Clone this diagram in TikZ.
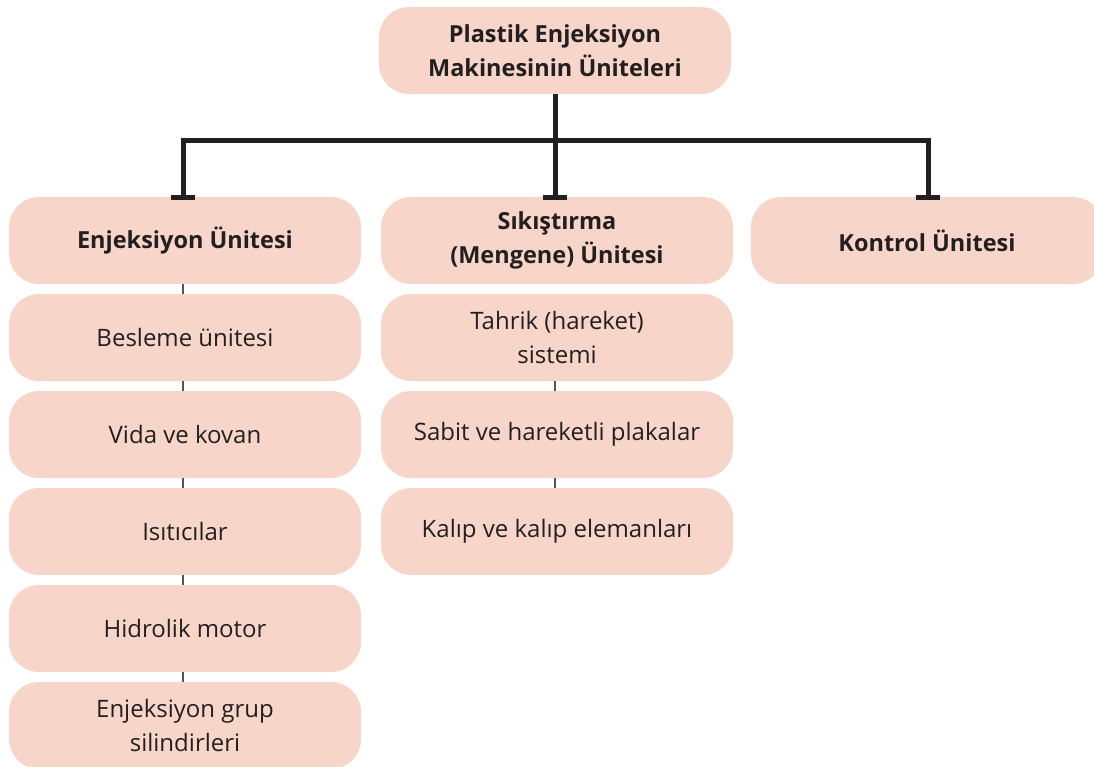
\documentclass[tikz,border=0pt]{standalone}
\usepackage{fontspec}
\setmainfont{Open Sans}
\usetikzlibrary{arrows.meta}
\definecolor{boxfill}{HTML}{F7D6C9}
\definecolor{ink}{HTML}{231F20}
\definecolor{thinline}{HTML}{555555}
\begin{document}
\begin{tikzpicture}[x=1pt,y=-1pt,
  unit/.style={fill=boxfill,rounded corners=30pt,minimum width=352pt,minimum height=87pt,
    inner sep=0pt,align=center,text=ink,font=\fontsize{24}{34}\selectfont},
  head/.style={unit,font=\fontsize{23.5}{34}\selectfont\bfseries},
  main/.style={draw=ink,line width=5pt,-{Bar[width=24pt,line width=5pt]}},
  sub/.style={draw=thinline,line width=1.6pt}]
\useasboundingbox (0,0) rectangle (1094,767);
\node[head] (top) at (555,50.5) {Plastik Enjeksiyon\\Makinesinin Üniteleri};
\node[head] (inj) at (185,240.5) {Enjeksiyon Ünitesi};
\node[head] (clamp) at (557,240.5) {Sıkıştırma\\(Mengene) Ünitesi};
\node[head] (ctrl) at (927,240.5) {Kontrol Ünitesi};
\coordinate (hub) at (555,141);
\node[unit] (l1) at (185,337.5) {Besleme ünitesi};
\node[unit] (l2) at (185,434.5) {Vida ve kovan};
\node[unit] (l3) at (185,531.5) {Isıtıcılar};
\node[unit] (l4) at (185,628.5) {Hidrolik motor};
\node[unit] (l5) at (185,725.5) {Enjeksiyon grup\\silindirleri};
\node[unit] (m1) at (557,337.5) {Tahrik (hareket)\\sistemi};
\node[unit] (m2) at (557,434.5) {Sabit ve hareketli plakalar};
\node[unit] (m3) at (557,531.5) {Kalıp ve kalıp elemanları};
\draw[draw=ink,line width=5pt] (top.south) -- (hub);
\draw[main] (hub) -| ([xshift=-2pt,yshift=-3pt]inj.north);
\draw[main] (hub) -- ([xshift=-2pt,yshift=-3pt]clamp.north);
\draw[main] (hub) -| ([xshift=1pt,yshift=-3pt]ctrl.north);
\draw[sub] ([xshift=-2pt]inj.south) -- ([xshift=-2pt]l1.north);
\draw[sub] ([xshift=-2pt]l1.south) -- ([xshift=-2pt]l2.north);
\draw[sub] ([xshift=-2pt]l2.south) -- ([xshift=-2pt]l3.north);
\draw[sub] ([xshift=-2pt]l3.south) -- ([xshift=-2pt]l4.north);
\draw[sub] ([xshift=-2pt]l4.south) -- ([xshift=-2pt]l5.north);
\draw[sub] ([xshift=-2pt]m1.south) -- ([xshift=-2pt]m2.north);
\draw[sub] ([xshift=-2pt]m2.south) -- ([xshift=-2pt]m3.north);
\end{tikzpicture}
\end{document}
